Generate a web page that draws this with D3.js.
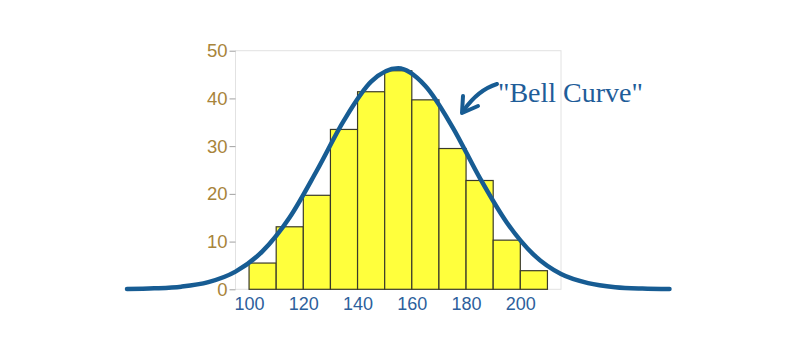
<!DOCTYPE html>
<html><head><meta charset="utf-8">
<script src="https://cdn.jsdelivr.net/npm/d3@7"></script>
<style>body{margin:0;background:#fff}svg{display:block}</style>
</head><body>
<svg id="c" width="800" height="364"></svg>
<script>
// Histogram bins (lower edges) and counts
const binStarts = [100,110,120,130,140,150,160,170,180,190,200];
const binWidth = 10;
const counts = [5.5,13.1,19.7,33.5,41.4,45.8,39.7,29.5,22.8,10.3,3.9];
// Bell curve points
const curveX = [55,65,75,85,95,105,115,125,135,145,155,165,175,185,195,205,215,225,235,245,255];
const curveY = [0.05,0.2,0.55,1.5,3.7,8.0,15.1,24.9,35.4,43.5,46.3,42.6,34.0,23.4,14.0,7.2,3.2,1.3,0.45,0.15,0.05];
const xTicks = [100,120,140,160,180,200];
const yTicks = [0,10,20,30,40,50];
const annotation = '"Bell Curve"';

const svg = d3.select("#c");
const x = d3.scaleLinear().domain([95,215]).range([235.5,561]);
const y = d3.scaleLinear().domain([0,50]).range([289.3,50.7]);

// plot frame
svg.append("rect").attr("x",x(95)).attr("y",y(50)).attr("width",x(215)-x(95)).attr("height",y(0)-y(50))
  .attr("fill","none").attr("stroke","#e2e2e2").attr("stroke-width",1);

// bars
svg.selectAll("rect.bar").data(binStarts).enter().append("rect").attr("class","bar")
  .attr("x",d=>x(d)).attr("width",d=>x(d+binWidth)-x(d))
  .attr("y",(d,i)=>y(counts[i])).attr("height",(d,i)=>y(0)-y(counts[i]))
  .attr("fill","#ffff3c").attr("stroke","#3a3a2a").attr("stroke-width",1.2);

// curve
const line = d3.line().x((d,i)=>x(curveX[i])).y(d=>y(d)).curve(d3.curveMonotoneX);
svg.append("path").attr("d",line(curveY)).attr("fill","none")
  .attr("stroke","#175c93").attr("stroke-width",4.5).attr("stroke-linecap","round");

// y axis
const yAxis = svg.append("g").attr("transform",`translate(${x(95)},0)`)
  .call(d3.axisLeft(y).tickValues(yTicks).tickSize(6).tickPadding(2));
yAxis.select(".domain").remove();
yAxis.selectAll("line").attr("stroke","#a0a0a0");
yAxis.selectAll("text").attr("fill","#a8843a").style("font-family","Liberation Sans, Arial, sans-serif").style("font-size","18.5px");

// x axis
const xAxis = svg.append("g").attr("transform",`translate(0,${y(0)})`)
  .call(d3.axisBottom(x).tickValues(xTicks).tickSize(0).tickPadding(8));
xAxis.select(".domain").remove();
xAxis.selectAll("text").attr("fill","#2d5f9c").style("font-family","Liberation Sans, Arial, sans-serif").style("font-size","18px");

// annotation
svg.append("text").attr("x",498).attr("y",102).text(annotation)
  .attr("fill","#1f5d99").style("font-family","Liberation Serif, serif").style("font-size","28px");

// arrow
svg.append("path").attr("d","M497,84 Q478,90 464,110")
  .attr("fill","none").attr("stroke","#175c93").attr("stroke-width",4).attr("stroke-linecap","round");
svg.append("path").attr("d","M462,113 L463,96 M462,113 L478,106")
  .attr("fill","none").attr("stroke","#175c93").attr("stroke-width",4).attr("stroke-linecap","round");
</script>
</body></html>
